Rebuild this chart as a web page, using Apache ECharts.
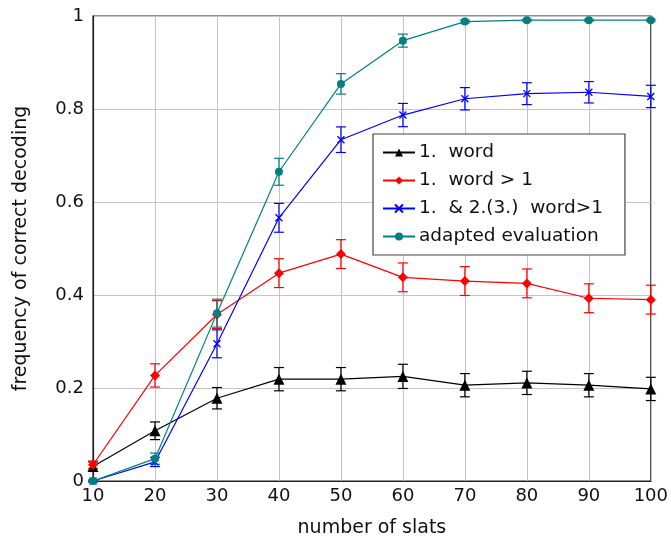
<!DOCTYPE html>
<html>
<head>
<meta charset="utf-8">
<script src="https://cdn.jsdelivr.net/npm/echarts@6/dist/echarts.min.js"></script>
<style>
  html, body { margin: 0; padding: 0; background: #fff; }
  #chart { width: 671px; height: 543px; }
</style>
</head>
<body>
<div id="chart"></div>
<script>
const slats = [10, 20, 30, 40, 50, 60, 70, 80, 90, 100]

const wordMean = [0.031, 0.108, 0.178, 0.219, 0.219, 0.225, 0.206, 0.211, 0.206, 0.198]
const wordErr = [0.01, 0.019, 0.023, 0.025, 0.025, 0.026, 0.025, 0.025, 0.025, 0.025]

const wordGt1Mean = [0.035, 0.227, 0.358, 0.447, 0.488, 0.438, 0.430, 0.425, 0.393, 0.390]
const wordGt1Err = [0.008, 0.025, 0.03, 0.031, 0.031, 0.031, 0.031, 0.031, 0.031, 0.031]

const word23Mean = [0.0, 0.041, 0.295, 0.566, 0.734, 0.787, 0.822, 0.833, 0.836, 0.827]
const word23Err = [0.002, 0.01, 0.03, 0.031, 0.0275, 0.025, 0.024, 0.0235, 0.023, 0.024]

const adaptedMean = [0.0, 0.048, 0.361, 0.665, 0.854, 0.947, 0.988, 0.991, 0.991, 0.991]
const adaptedErr = [0.002, 0.012, 0.03, 0.029, 0.022, 0.014, 0.003, 0.002, 0.002, 0.002]

const names = ['1.  word', '1.  word > 1', '1.  & 2.(3.)  word>1', 'adapted evaluation']
const colors = ['#000000', '#ff0000', '#0000ff', '#008080']

const crossPath = 'path://M0,0L10,10M10,0L0,10'

const pairs = (m) => slats.map((x, i) => [x, m[i]])
const bars = (m, e) => slats.map((x, i) => [x, m[i] - e[i], m[i] + e[i]])

// error bars drawn as custom marks on the same axes
const errSeries = (m, e, color) => ({
  type: 'custom',
  name: 'err',
  silent: true,
  z: 1,
  data: bars(m, e),
  renderItem: (params, api) => {
    const lo = api.coord([api.value(0), api.value(1)])
    const hi = api.coord([api.value(0), api.value(2)])
    const w = 5
    const style = { stroke: color, lineWidth: 1.2 }
    return {
      type: 'group',
      children: [
        { type: 'line', shape: { x1: lo[0], y1: lo[1], x2: hi[0], y2: hi[1] }, style },
        { type: 'line', shape: { x1: lo[0] - w, y1: lo[1], x2: lo[0] + w, y2: lo[1] }, style },
        { type: 'line', shape: { x1: hi[0] - w, y1: hi[1], x2: hi[0] + w, y2: hi[1] }, style },
      ],
    }
  },
})

const lineSeries = (name, m, color, symbol, size) => ({
  type: 'line',
  name,
  data: pairs(m),
  symbol,
  symbolSize: size,
  showAllSymbol: true,
  z: 3,
  lineStyle: { color, width: 1.2 },
  itemStyle: symbol === crossPath ? { color: color, borderColor: color, borderWidth: 1.3 } : { color },
  emphasis: { disabled: true },
})

const font = '"DejaVu Sans", sans-serif'

const chart = echarts.init(document.getElementById('chart'), null, { renderer: 'canvas' })
chart.setOption({
  animation: false,
  textStyle: { fontFamily: font },
  grid: { left: 93, right: 20, top: 16, bottom: 60, show: true, borderColor: '#222', borderWidth: 1.2 },
  legend: {
    data: names,
    orient: 'vertical',
    left: 373,
    top: 134,
    itemWidth: 32,
    itemHeight: 10,
    itemGap: 9,
    padding: [9, 22, 9, 9],
    borderColor: '#444',
    borderWidth: 1.2,
    backgroundColor: '#fff',
    textStyle: { fontFamily: font, fontSize: 18.5, color: '#111', padding: [0, 0, 0, -1] },
  },
  xAxis: {
    type: 'value',
    min: 10,
    max: 100,
    interval: 10,
    name: 'number of slats',
    nameLocation: 'middle',
    nameGap: 38,
    nameTextStyle: { fontSize: 19, color: '#111', fontFamily: font },
    axisLine: { lineStyle: { color: '#222', width: 1.2 } },
    axisTick: { show: false },
    axisLabel: { fontSize: 18, color: '#111', margin: 6, fontFamily: font },
    splitLine: { lineStyle: { color: '#c4c4c4', width: 1 } },
  },
  yAxis: {
    type: 'value',
    min: 0,
    max: 1,
    interval: 0.2,
    name: 'frequency of correct decoding',
    nameLocation: 'middle',
    nameGap: 62,
    nameTextStyle: { fontSize: 19, color: '#111', fontFamily: font },
    axisLine: { show: true, lineStyle: { color: '#222', width: 1.2 } },
    axisTick: { show: false },
    axisLabel: { fontSize: 18, color: '#111', margin: 9, fontFamily: font },
    splitLine: { lineStyle: { color: '#c4c4c4', width: 1 } },
  },
  series: [
    errSeries(wordMean, wordErr, colors[0]),
    errSeries(wordGt1Mean, wordGt1Err, colors[1]),
    errSeries(word23Mean, word23Err, colors[2]),
    errSeries(adaptedMean, adaptedErr, colors[3]),
    lineSeries(names[0], wordMean, colors[0], 'triangle', 11),
    lineSeries(names[1], wordGt1Mean, colors[1], 'diamond', 10),
    lineSeries(names[2], word23Mean, colors[2], crossPath, 7),
    lineSeries(names[3], adaptedMean, colors[3], 'circle', 8),
  ],
})
</script>
</body>
</html>
